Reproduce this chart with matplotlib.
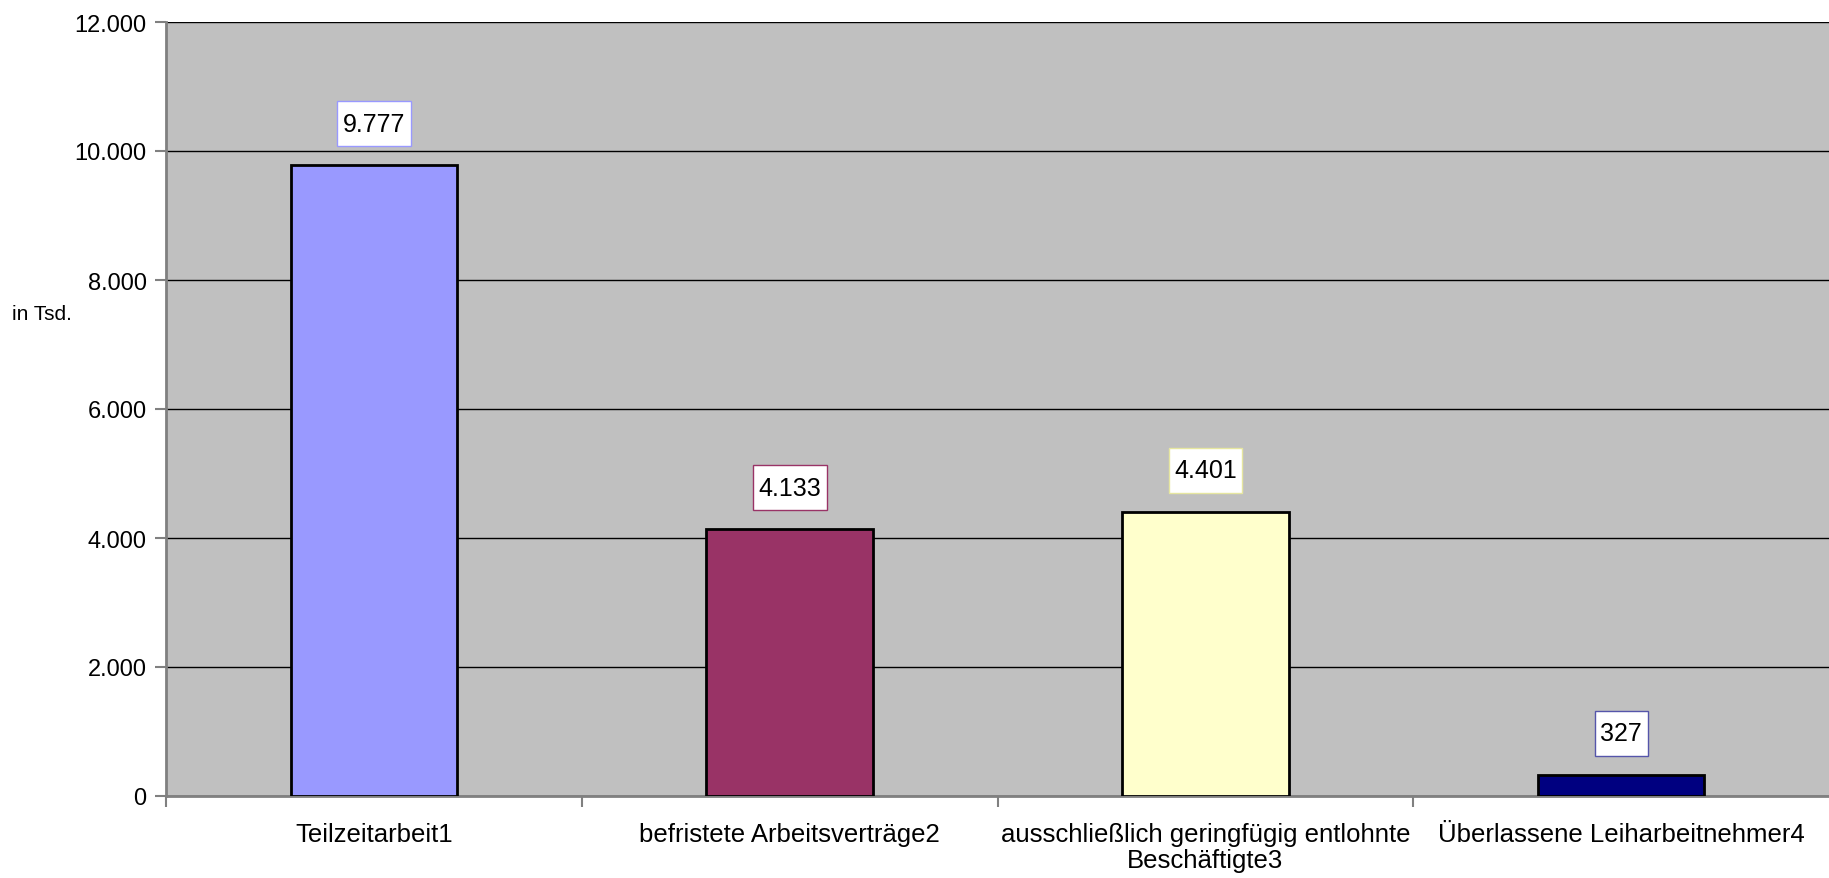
"""
Atypische Beschäftigung - Säulendiagramm
"""

import matplotlib.pyplot as plt
import matplotlib.ticker as mticker
from matplotlib.path import Path

plt.rcParams['font.family'] = ['Liberation Sans', 'DejaVu Sans']

# Daten (in Tsd.)
kategorien = ['Teilzeitarbeit1', 'befristete Arbeitsverträge2',
              'ausschließlich geringfügig entlohnte\nBeschäftigte3',
              'Überlassene Leiharbeitnehmer4']
werte = [9777, 4133, 4401, 327]
farben = ['#9999FF', '#993366', '#FFFFCC', '#000080']
rahmen = ['#9999FF', '#993366', '#E6E6A0', '#5555AA']


def fmt_de(v, pos=None):
    return f'{v:,.0f}'.replace(',', '.')


def kasten(x0, y0, width, height, mutation_size):
    # Rechteck mit kleinerem Rand links/rechts als oben/unten
    hp = 0.22 * mutation_size
    vp = 0.42 * mutation_size
    x0, y0 = x0 - hp, y0 - vp
    x1, y1 = x0 + width + 2 * hp, y0 + height + 2 * vp
    return Path([(x0, y0), (x1, y0), (x1, y1), (x0, y1), (x0, y0)], closed=True)


fig = plt.figure(figsize=(18.29, 8.79), dpi=100)
ax = fig.add_axes([166 / 1829, 82 / 879, 1 - 166 / 1829, (797 - 23) / 879])

x = range(len(werte))
ax.bar(x, werte, width=0.40, color=farben, edgecolor='black', linewidth=2, zorder=3)

# Werte-Beschriftung
for i, v in enumerate(werte):
    ax.annotate(fmt_de(v), (i, v), xytext=(0, 30), textcoords='offset points',
                ha='center', va='center', fontsize=18, zorder=4,
                bbox=dict(boxstyle=kasten, facecolor='white',
                          edgecolor=rahmen[i], linewidth=1))

ax.set_facecolor('#C0C0C0')
ax.set_xlim(-0.5, len(werte) - 0.5)
ax.set_ylim(0, 12000)
ax.yaxis.set_major_locator(mticker.MultipleLocator(2000))
ax.yaxis.set_major_formatter(mticker.FuncFormatter(fmt_de))
ax.grid(True, axis='y', color='black', linewidth=1, zorder=1)

ax.set_xticks([i + 0.5 for i in range(-1, len(werte) - 1)])
ax.set_xticklabels([])
ax.set_xticks(list(x), minor=True)
ax.set_xticklabels(kategorien, minor=True, fontsize=18.5, linespacing=1.1)
ax.tick_params(axis='x', which='minor', length=0, pad=19)
ax.tick_params(axis='x', which='major', length=8, color='#808080', width=1.5)
ax.tick_params(axis='y', length=8, width=1.5, color='#808080', labelsize=17, pad=6)

for s in ['top', 'right']:
    ax.spines[s].set_visible(False)
ax.spines['left'].set_color('#808080')
ax.spines['left'].set_linewidth(2)
ax.spines['bottom'].set_color('#808080')
ax.spines['bottom'].set_linewidth(2)

fig.text(12 / 1829, 1 - 315 / 879, 'in Tsd.', fontsize=15, va='center', ha='left')

fig.savefig('out.png', dpi=100)
